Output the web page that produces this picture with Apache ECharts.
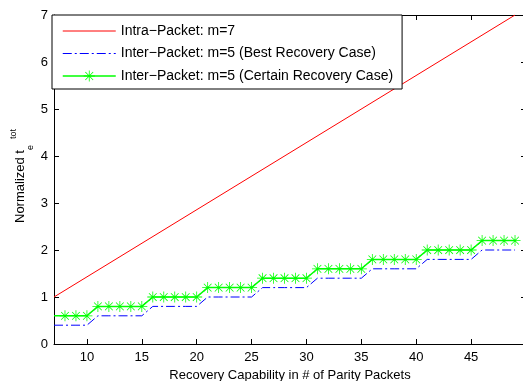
<!DOCTYPE html>
<html><head><meta charset="utf-8">
<script src="https://cdn.jsdelivr.net/npm/echarts@6/dist/echarts.min.js"></script>
<style>html,body{margin:0;padding:0;background:#fff}#c{width:523px;height:381px}</style>
</head><body><div id="c"></div>
<script>
const parityPackets = [7,8,9,10,11,12,13,14,15,16,17,18,19,20,21,22,23,24,25,26,27,28,29,30,31,32,33,34,35,36,37,38,39,40,41,42,43,44,45,46,47,48,49];
const intraX = [7, 49];
const intraY = [1, 7];
const bestRecovery = [0.4,0.4,0.4,0.4, 0.6,0.6,0.6,0.6,0.6, 0.8,0.8,0.8,0.8,0.8, 1.0,1.0,1.0,1.0,1.0, 1.2,1.2,1.2,1.2,1.2, 1.4,1.4,1.4,1.4,1.4, 1.6,1.6,1.6,1.6,1.6, 1.8,1.8,1.8,1.8,1.8, 2.0,2.0,2.0,2.0];
const certainRecovery = [0.6,0.6,0.6,0.6, 0.8,0.8,0.8,0.8,0.8, 1.0,1.0,1.0,1.0,1.0, 1.2,1.2,1.2,1.2,1.2, 1.4,1.4,1.4,1.4,1.4, 1.6,1.6,1.6,1.6,1.6, 1.8,1.8,1.8,1.8,1.8, 2.0,2.0,2.0,2.0,2.0, 2.2,2.2,2.2,2.2];
const xTickValues = [10,15,20,25,30,35,40,45];
const seriesNames = ['Intra\u2212Packet: m=7', 'Inter\u2212Packet: m=5 (Best Recovery Case)', 'Inter\u2212Packet: m=5 (Certain Recovery Case)'];
const xTitle = 'Recovery Capability in # of Parity Packets';

const FONT = '"Liberation Sans", Arial, Helvetica, sans-serif';
const star = 'path://M9.3 0L10.7 0L10.7 20L9.3 20ZM0 9.3L20 9.3L20 10.7L0 10.7ZM2.5 3.5L3.5 2.5L17.5 16.5L16.5 17.5ZM16.5 2.5L17.5 3.5L3.5 17.5L2.5 16.5Z';
const dashDot = [9, 3, 2, 3];

const chart = echarts.init(document.getElementById('c'), null, {renderer: 'canvas'});
const pair = (xs, ys) => xs.map((x, i) => [x, ys[i]]);
const certainData = pair(parityPackets, certainRecovery).map((p, i) => i === 0 ? {value: p, symbol: 'none'} : p);

const tickStyle = {show: true, inside: true, length: 5, lineStyle: {color: '#000', width: 1}};
chart.setOption({
  animation: false,
  backgroundColor: '#fff',
  textStyle: {fontFamily: FONT},
  grid: {left: 54, top: 15, width: 472, height: 329, containLabel: false, outerBoundsMode: 'none'},
  legend: {
    orient: 'vertical', left: 52, top: 15,
    backgroundColor: '#fff', borderColor: '#000', borderWidth: 1,
    padding: [9, 9, 6, 10], itemWidth: 53, itemHeight: 14, itemGap: 8.5,
    textStyle: {fontFamily: FONT, fontSize: 14, color: '#000'},
    data: [
      {name: seriesNames[0], itemStyle: {opacity: 0}, lineStyle: {width: 1, color: '#ff0000', type: 'solid'}},
      {name: seriesNames[1], itemStyle: {opacity: 0}, lineStyle: {width: 1, color: '#0000ff', type: dashDot}},
      {name: seriesNames[2], lineStyle: {width: 1.5, color: '#00ff00', type: 'solid'}}
    ]
  },
  xAxis: [{
    type: 'value', min: 7, max: 50, position: 'bottom',
    name: xTitle, nameLocation: 'middle', nameGap: 25, nameMoveOverlap: false,
    nameTextStyle: {fontFamily: FONT, fontSize: 13, color: '#000'},
    axisLine: {show: true, onZero: false, lineStyle: {color: '#000', width: 1}},
    axisTick: Object.assign({customValues: xTickValues}, tickStyle),
    axisLabel: {customValues: xTickValues, fontFamily: FONT, fontSize: 13, color: '#000', margin: 7},
    splitLine: {show: false}
  }, {
    type: 'value', min: 7, max: 50, position: 'top',
    axisLine: {show: true, onZero: false, lineStyle: {color: '#000', width: 1}},
    axisTick: Object.assign({customValues: xTickValues}, tickStyle),
    axisLabel: {show: false},
    splitLine: {show: false}
  }],
  yAxis: [{
    type: 'value', min: 0, max: 7, interval: 1, position: 'left',
    axisLine: {show: true, onZero: false, lineStyle: {color: '#000', width: 1}},
    axisTick: tickStyle,
    axisLabel: {fontFamily: FONT, fontSize: 13, color: '#000', margin: 6},
    splitLine: {show: false}
  }, {
    type: 'value', min: 0, max: 7, interval: 1, position: 'right',
    axisLine: {show: true, onZero: false, lineStyle: {color: '#000', width: 1}},
    axisTick: tickStyle,
    axisLabel: {show: false},
    splitLine: {show: false}
  }],
  series: [{
    name: seriesNames[0], type: 'line', symbol: 'none',
    data: pair(intraX, intraY),
    lineStyle: {color: '#ff0000', width: 1}, itemStyle: {color: '#ff0000'}
  }, {
    name: seriesNames[1], type: 'line', symbol: 'none',
    data: pair(parityPackets, bestRecovery),
    lineStyle: {color: '#0000ff', width: 1, type: dashDot}, itemStyle: {color: '#0000ff'}
  }, {
    name: seriesNames[2], type: 'line', symbol: star, symbolSize: 11, showAllSymbol: true,
    data: certainData,
    lineStyle: {color: '#00ff00', width: 1.5}, itemStyle: {color: '#00ff00'}
  }],
  graphic: [
    {type: 'text', x: 20, y: 223, rotation: Math.PI / 2, silent: true,
     style: {text: 'Normalized t', font: '13px ' + FONT, fill: '#000', align: 'left', verticalAlign: 'middle'}},
    {type: 'text', x: 31, y: 150, rotation: Math.PI / 2, silent: true,
     style: {text: 'e', font: '9px ' + FONT, fill: '#000', align: 'left', verticalAlign: 'middle'}},
    {type: 'text', x: 14, y: 139, rotation: Math.PI / 2, silent: true,
     style: {text: 'tot', font: '9px ' + FONT, fill: '#000', align: 'left', verticalAlign: 'middle'}}
  ]
});
</script></body></html>
